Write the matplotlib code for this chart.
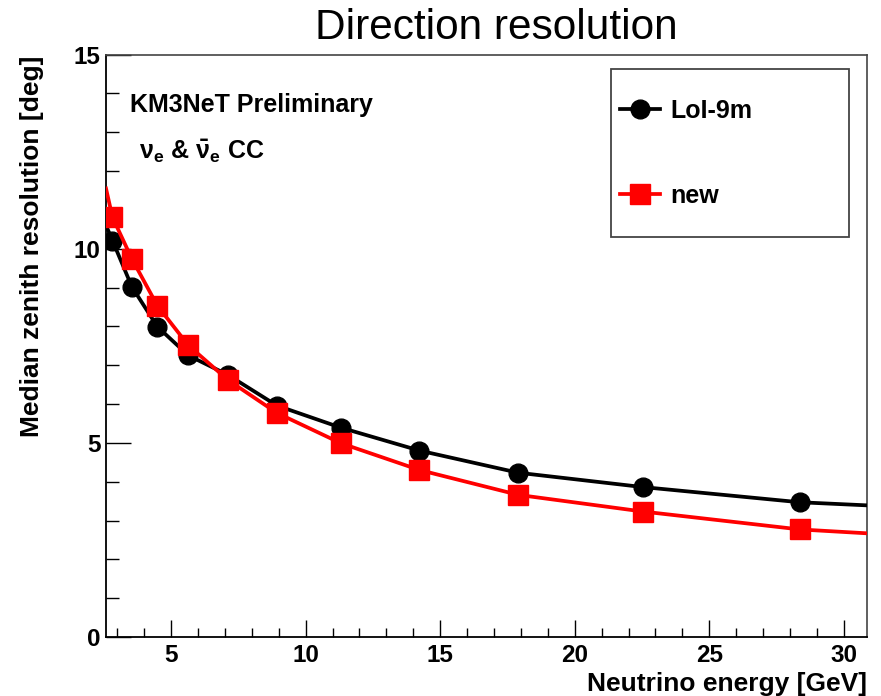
import matplotlib
matplotlib.use("Agg")
import matplotlib.pyplot as plt
from matplotlib.patches import Rectangle
from matplotlib.ticker import MultipleLocator

plt.rcParams['font.family'] = ['Liberation Sans', 'DejaVu Sans']
plt.rcParams['mathtext.fontset'] = 'custom'
plt.rcParams['mathtext.rm'] = 'Liberation Sans:bold'
plt.rcParams['mathtext.bf'] = 'Liberation Sans:bold'

# neutrino energy bin centres [GeV]
energy = [2.82, 3.54, 4.49, 5.64, 7.11, 8.93, 11.31, 14.23, 17.90, 22.54, 28.36]
# median zenith resolution [deg]
res_loi = [10.21, 9.02, 7.99, 7.25, 6.75, 5.96, 5.39, 4.80, 4.23, 3.86, 3.47]
res_new = [10.81, 9.74, 8.53, 7.51, 6.62, 5.77, 4.99, 4.30, 3.66, 3.23, 2.77]
# curve values where the drawn lines meet the frame edges
x_range = (2.58, 30.86)
loi_ends = (10.6, 3.39)
new_ends = (11.55, 2.67)

y_ticks = [0, 5, 10, 15]
x_ticks = [5, 10, 15, 20, 25, 30]

W, H = 881, 696
fig = plt.figure(figsize=(W / 100, H / 100), dpi=100)
ax = fig.add_axes([106 / W, 1 - 637 / H, (867 - 106) / W, (637 - 54.5) / H])

def curve(ends, vals):
    return [x_range[0]] + energy + [x_range[1]], [ends[0]] + vals + [ends[1]]

xs, ys = curve(loi_ends, res_loi)
ax.plot(xs, ys, color='black', lw=2.7, zorder=3)
ax.plot(energy, res_loi, 'o', color='black', ms=13.5, zorder=4)
xs, ys = curve(new_ends, res_new)
ax.plot(xs, ys, color='#ff0000', lw=2.7, zorder=5)
ax.plot(energy, res_new, 's', color='#ff0000', ms=14.5, zorder=6)

ax.set_xlim(*x_range)
ax.set_ylim(0, 15)
ax.set_xticks(x_ticks)
ax.set_yticks(y_ticks)
ax.xaxis.set_minor_locator(MultipleLocator(1))
ax.yaxis.set_minor_locator(MultipleLocator(1))
ax.tick_params(axis='both', which='both', direction='in', width=1.0,
               labelsize=17.5, top=False, right=False)
ax.tick_params(axis='x', which='major', length=12.2, pad=5)
ax.tick_params(axis='x', which='minor', length=6.3)
ax.tick_params(axis='y', which='major', length=18, pad=4)
ax.tick_params(axis='y', which='minor', length=9)
for lab in ax.get_xticklabels() + ax.get_yticklabels():
    lab.set_fontweight('bold')
for side in ['left', 'bottom']:
    ax.spines[side].set_linewidth(1.3)
    ax.spines[side].set_color('black')
for side in ['top', 'right']:
    ax.spines[side].set_linewidth(1.2)
    ax.spines[side].set_color('#444444')

# legend box
x0, x1 = (610.7 - 106) / 761, (849 - 106) / 761
y0, y1 = (637 - 236.7) / 582.5, (637 - 69.3) / 582.5
ax.add_patch(Rectangle((x0, y0), x1 - x0, y1 - y0, transform=ax.transAxes,
                       facecolor='white', edgecolor='#444444', lw=1.3, zorder=7))
h1, = ax.plot([], [], '-o', color='black', lw=2.7, ms=13.5)
h2, = ax.plot([], [], '-s', color='#ff0000', lw=2.7, ms=14.5)
leg = ax.legend([h1, h2], ['LoI-9m', 'new'], loc='center left',
                bbox_to_anchor=((620 - 106) / 761, (637 - 153.4) / 582.5),
                frameon=False, borderpad=0, borderaxespad=0,
                handlelength=1.6, handletextpad=0.4, labelspacing=2.45,
                prop={'size': 18, 'weight': 'bold'})
leg.set_zorder(8)

fig.text(496 / W, 1 - 39 / H, 'Direction resolution', ha='center',
         va='baseline', fontsize=30.5)
fig.text(130 / W, 1 - 112 / H, 'KM3NeT Preliminary', ha='left',
         va='baseline', fontsize=18, fontweight='bold')
fig.text(139 / W, 1 - 159 / H,
         r'$\mathrm{\nu_e}$ & $\mathrm{\bar{\nu}_e}$ CC', ha='left',
         va='baseline', fontsize=18, fontweight='bold')
fig.text(867 / W, 1 - 691 / H, 'Neutrino energy [GeV]', ha='right',
         va='baseline', fontsize=19, fontweight='bold')
fig.text(32.5 / W, 1 - 56 / H, 'Median zenith resolution [deg]', ha='center',
         va='top', rotation=90, fontsize=19, fontweight='bold')

fig.savefig('out.png', dpi=100)
